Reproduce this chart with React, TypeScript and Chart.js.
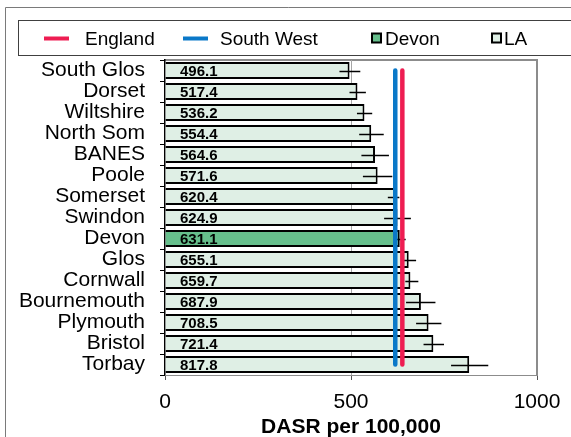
import React, { useEffect, useRef } from "react";
import { Chart, registerables } from "chart.js";

Chart.register(...registerables);

const categories = [
  "South Glos", "Dorset", "Wiltshire", "North Som", "BANES", "Poole", "Somerset",
  "Swindon", "Devon", "Glos", "Cornwall", "Bournemouth", "Plymouth", "Bristol", "Torbay",
];
const values = [496.1, 517.4, 536.2, 554.4, 564.6, 571.6, 620.4, 624.9, 631.1, 655.1, 659.7, 687.9, 708.5, 721.4, 817.8];
const lowerCI = [469, 496, 516, 522, 528, 532, 599, 589, 615, 641, 646, 648, 675, 695, 769];
const upperCI = [525, 540, 557, 588, 602, 611, 630, 661, 647, 675, 681, 727, 743, 750, 869];
const englandValue = 638;
const southWestValue = 619;
const highlightName = "Devon";
const xTicks = [0, 500, 1000];

const LA_FILL = "#DFEFE5";
const DEVON_FILL = "#66BF8C";
const ENGLAND_COLOR = "#EE1D52";
const SW_COLOR = "#0A78C8";
const FONT = "'Liberation Sans', Arial, sans-serif";

const framePlugin = {
  id: "frames",
  beforeDraw(chart: any) {
    const { ctx, chartArea } = chart;
    ctx.save();
    ctx.fillStyle = "#fff";
    ctx.fillRect(0, 0, chart.width, chart.height);
    // outer chart frame
    ctx.strokeStyle = "#7a7a7a";
    ctx.lineWidth = 1;
    ctx.beginPath();
    ctx.moveTo(5.5, chart.height);
    ctx.lineTo(5.5, 7.5);
    ctx.lineTo(chart.width, 7.5);
    ctx.stroke();
    // legend box
    ctx.strokeStyle = "#404040";
    ctx.strokeRect(18.5, 20.5, chart.width, 35);
    // plot area top/right border
    ctx.strokeStyle = "#8c8c8c";
    ctx.lineWidth = 2;
    ctx.beginPath();
    ctx.moveTo(chartArea.left, chartArea.top);
    ctx.lineTo(chartArea.right, chartArea.top);
    ctx.lineTo(chartArea.right, chartArea.bottom);
    ctx.stroke();
    ctx.restore();
  },
  afterDatasetDraw(chart: any, args: any) {
    if (args.index !== 0) return;
    const { ctx } = chart;
    const xs = chart.scales.x;
    const ys = chart.scales.y;
    ctx.save();
    // error bars
    ctx.strokeStyle = "#000";
    ctx.lineWidth = 1.5;
    categories.forEach((_, i) => {
      const y = Math.round(ys.getPixelForValue(i)) + 0.5;
      ctx.beginPath();
      ctx.moveTo(xs.getPixelForValue(lowerCI[i]), y);
      ctx.lineTo(xs.getPixelForValue(upperCI[i]), y);
      ctx.stroke();
    });
    // value labels
    ctx.fillStyle = "#000";
    ctx.font = `bold 15px ${FONT}`;
    ctx.textAlign = "left";
    ctx.textBaseline = "middle";
    categories.forEach((_, i) => {
      const y = ys.getPixelForValue(i) + 1;
      ctx.fillText(values[i].toFixed(1), xs.getPixelForValue(0) + 15, y);
    });
    ctx.restore();
  },
  afterDraw(chart: any) {
    const { ctx } = chart;
    ctx.save();
    const cy = 38.5;
    ctx.font = `19px ${FONT}`;
    ctx.textBaseline = "middle";
    ctx.textAlign = "left";
    ctx.fillStyle = "#000";
    ctx.lineWidth = 4;
    ctx.strokeStyle = ENGLAND_COLOR;
    ctx.beginPath();
    ctx.moveTo(44, cy);
    ctx.lineTo(69, cy);
    ctx.stroke();
    ctx.fillText("England", 85, cy + 1);
    ctx.strokeStyle = SW_COLOR;
    ctx.beginPath();
    ctx.moveTo(183, cy);
    ctx.lineTo(208, cy);
    ctx.stroke();
    ctx.fillText("South West", 220, cy + 1);
    ctx.lineWidth = 2;
    ctx.strokeStyle = "#000";
    ctx.fillStyle = DEVON_FILL;
    ctx.fillRect(372, cy - 5, 9, 9);
    ctx.strokeRect(372, cy - 5, 9, 9);
    ctx.fillStyle = "#000";
    ctx.fillText("Devon", 385, cy + 1);
    ctx.fillStyle = LA_FILL;
    ctx.fillRect(492, cy - 5, 9, 9);
    ctx.strokeRect(492, cy - 5, 9, 9);
    ctx.fillStyle = "#000";
    ctx.fillText("LA", 504, cy + 1);
    ctx.restore();
  },
};

export default function App() {
  const ref = useRef<HTMLCanvasElement | null>(null);
  useEffect(() => {
    if (!ref.current) return;
    const last = categories[categories.length - 1];
    const chart = new Chart(ref.current, {
      type: "bar",
      data: {
        labels: categories,
        datasets: [
          {
            type: "bar",
            label: "LA",
            data: values,
            backgroundColor: categories.map((c) => (c === highlightName ? DEVON_FILL : LA_FILL)),
            borderColor: "#000",
            borderWidth: 2,
            barPercentage: 0.8,
            categoryPercentage: 1,
            order: 2,
          } as any,
          {
            type: "line",
            label: "South West",
            indexAxis: "y",
            data: [
              { x: southWestValue, y: categories[0] },
              { x: southWestValue, y: last },
            ],
            borderColor: SW_COLOR,
            borderWidth: 4.5,
            borderCapStyle: "round",
            pointRadius: 0,
            order: 1,
          } as any,
          {
            type: "line",
            label: "England",
            indexAxis: "y",
            data: [
              { x: englandValue, y: categories[0] },
              { x: englandValue, y: last },
            ],
            borderColor: ENGLAND_COLOR,
            borderWidth: 4.5,
            borderCapStyle: "round",
            pointRadius: 0,
            order: 0,
          } as any,
        ],
      },
      options: {
        indexAxis: "y",
        responsive: false,
        animation: false,
        layout: { padding: { left: 0, right: 34, top: 60, bottom: 0 } },
        plugins: { legend: { display: false }, tooltip: { enabled: false }, title: { display: false } },
        scales: {
          y: {
            type: "category",
            afterFit: (s: any) => { s.width = 165; },
            grid: { drawOnChartArea: false, drawTicks: true, tickLength: 5, tickColor: "#000", offset: true },
            border: { color: "#000", width: 1.5 },
            ticks: { color: "#000", font: { family: FONT, size: 21 }, padding: 15, autoSkip: false },
          },
          x: {
            type: "linear",
            min: 0,
            max: 1000,
            afterBuildTicks: (s: any) => { s.ticks = xTicks.map((v) => ({ value: v })); },
            afterFit: (s: any) => { s.height = 62; },
            grid: {
              color: (c: any) => (c.tick && c.tick.value === 500 ? "#a6a6a6" : "rgba(0,0,0,0)"),
              tickColor: "#555",
              tickLength: 5,
              lineWidth: 1,
            },
            border: { color: "#8c8c8c", width: 1 },
            ticks: {
              color: "#000",
              font: { family: FONT, size: 21 },
              padding: 10,
              maxRotation: 0,
              callback: (v: any) => String(v),
            },
            title: {
              display: true,
              text: "DASR per 100,000",
              color: "#000",
              font: { family: FONT, size: 21, weight: "bold" },
              padding: { top: 0, bottom: -3 },
            },
          },
        },
      } as any,
      plugins: [framePlugin],
    });
    return () => chart.destroy();
  }, []);
  return (
    <div style={{ position: "fixed", left: 0, top: 0, width: 571, height: 437 }}>
      <canvas ref={ref} width={571} height={437} style={{ width: 571, height: 437 }} />
    </div>
  );
}
